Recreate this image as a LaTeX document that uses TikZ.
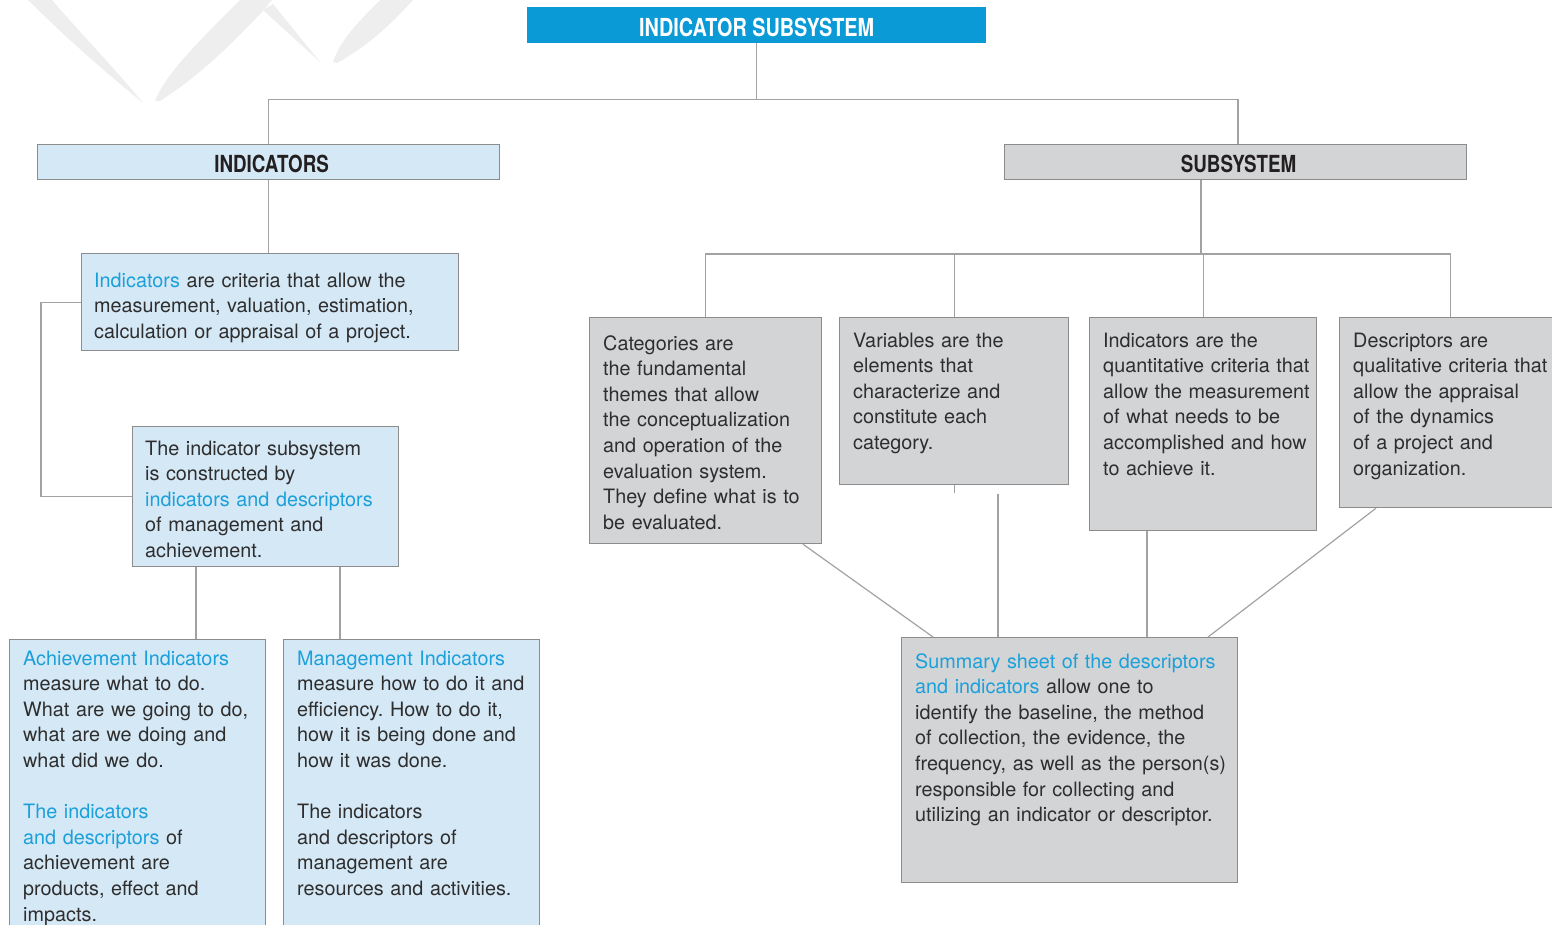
\documentclass[tikz,border=0pt]{standalone}
\usepackage{fontspec}
\setmainfont{TeX Gyre Heros}
\newfontfamily\headfont[FakeStretch=0.8]{TeX Gyre Heros}
\usetikzlibrary{calc}
\frenchspacing

\definecolor{headerblue}{HTML}{0A9AD6}
\definecolor{hlblue}{HTML}{1BA0DA}
\definecolor{lightblue}{HTML}{D5E8F6}
\definecolor{boxgray}{HTML}{D3D4D6}
\definecolor{boxborder}{HTML}{8C8C8C}
\definecolor{linegray}{HTML}{A2A2A2}
\definecolor{textgray}{HTML}{2E2E2E}
\definecolor{headtext}{HTML}{231F20}
\definecolor{wmgray}{HTML}{EEEEEE}

\newcommand{\hl}[1]{\textcolor{hlblue}{#1}}

\tikzset{
  conn/.style={draw=linegray, line width=1.2pt},
  panel/.style={rectangle, draw=boxborder, line width=1.2pt, inner sep=0pt,
                anchor=north west},
  bluepanel/.style={panel, fill=lightblue},
  graypanel/.style={panel, fill=boxgray},
  body/.style={anchor=base west, inner sep=0pt, text width=#1, align=left,
               text=textgray, font=\fontsize{19.8}{25.6}\selectfont},
  body/.default=330pt,
  headlabel/.style={text=headtext, yshift=-2pt,
                    font=\headfont\bfseries\fontsize{23.5}{26}\selectfont},
}

\begin{document}
\begin{tikzpicture}[x=1pt, y=-1pt]
\useasboundingbox (0,0) rectangle (1552,924);

% faint logo in the upper left corner
\begin{scope}[fill=wmgray]
  \fill (28,0) -- (52,0) .. controls (85,38) and (118,72) .. (143,103)
        .. controls (110,76) and (68,40) .. (28,0) -- cycle;
  \fill (155,101) .. controls (165,75) and (195,45) .. (240,0) -- (272,0)
        -- (262,12) .. controls (235,40) and (205,72) .. (160,101) -- cycle;
  \fill (263,10) -- (273,4) -- (321,63) -- cycle;
  \fill (333,62) .. controls (340,40) and (360,20) .. (380,0) -- (413,0)
        .. controls (395,20) and (370,45) .. (337,63) -- cycle;
\end{scope}

% title bar
\node[rectangle, fill=headerblue, inner sep=0pt, anchor=north west,
      minimum width=459, minimum height=36] (top) at (527,7) {};
\node[headlabel, text=white, font=\headfont\bfseries\fontsize{24.8}{28}\selectfont]
      (toptext) at (top.center) {INDICATOR SUBSYSTEM};

% the two branches
\node[bluepanel, minimum width=462, minimum height=35] (ind) at (37,144) {};
\node[headlabel] (indtext) at ([xshift=3pt]ind.center) {INDICATORS};
\node[graypanel, minimum width=462, minimum height=35] (sub) at (1004,144) {};
\node[headlabel] (subtext) at ([xshift=3pt]sub.center) {SUBSYSTEM};

% ---------- left branch ----------
\node[bluepanel, minimum width=377, minimum height=97] (def) at (81,253) {};
\node[body] (deftext) at (94,287)
  {\hl{Indicators} are criteria that allow the\\
   measurement, valuation, estimation,\\
   calculation or appraisal of a project.};

\node[bluepanel, minimum width=266, minimum height=140] (cons) at (132,426) {};
\node[body] (constext) at (145,455)
  {The indicator subsystem\\
   is constructed by\\
   \hl{indicators and descriptors}\\
   of management and\\
   achievement.};

\node[bluepanel, minimum width=256, minimum height=300] (ach) at (9,639) {};
\node[body=250pt] (achtext) at (23,665)
  {\hl{Achievement Indicators}\\
   measure what to do.\\
   What are we going to do,\\
   what are we doing and\\
   what did we do.\\[25.6pt]
   \hl{The indicators}\\
   \hl{and descriptors} of\\
   achievement are\\
   products, effect and\\
   impacts.};

\node[bluepanel, minimum width=256, minimum height=300] (man) at (283,639) {};
\node[body=250pt] (mantext) at (297,665)
  {\hl{Management Indicators}\\
   measure how to do it and\\
   efficiency. How to do it,\\
   how it is being done and\\
   how it was done.\\[25.6pt]
   The indicators\\
   and descriptors of\\
   management are\\
   resources and activities.};

% ---------- right branch ----------
\node[graypanel, minimum width=232, minimum height=226] (cat) at (589,317) {};
\node[body=230pt] (cattext) at (603,350)
  {Categories are\\
   the fundamental\\
   themes that allow\\
   the conceptualization\\
   and operation of the\\
   evaluation system.\\
   They define what is to\\
   be evaluated.};

\node[graypanel, minimum width=229, minimum height=167] (var) at (839,317) {};
\node[body=220pt] (vartext) at (853,347)
  {Variables are the\\
   elements that\\
   characterize and\\
   constitute each\\
   category.};

\node[graypanel, minimum width=227, minimum height=213] (qnt) at (1089,317) {};
\node[body=230pt] (qnttext) at (1103,347)
  {Indicators are the\\
   quantitative criteria that\\
   allow the measurement\\
   of what needs to be\\
   accomplished and how\\
   to achieve it.};

\node[graypanel, minimum width=222, minimum height=190] (desc) at (1339,317) {};
\node[body=220pt] (desctext) at (1353,347)
  {Descriptors are\\
   qualitative criteria that\\
   allow the appraisal\\
   of the dynamics\\
   of a project and\\
   organization.};

\node[graypanel, minimum width=336, minimum height=245] (sum) at (901,637) {};
\node[body=330pt] (sumtext) at (915,668)
  {\hl{Summary sheet of the descriptors}\\
   \hl{and indicators} allow one to\\
   identify the baseline, the method\\
   of collection, the evidence, the\\
   frequency, as well as the person(s)\\
   responsible for collecting and\\
   utilizing an indicator or descriptor.};

% ---------- connectors ----------
\coordinate (split) at ($(top.south)+(0,56)$);
\coordinate (xsub)  at (1238,0);
\coordinate (hub)   at (1201,254);
\coordinate (xa)    at (196,0);
\coordinate (xm)    at (340,0);
\coordinate (xloop) at (41,0);
\coordinate (xc1)   at (803,0);
\coordinate (xc2)   at (933,0);
\coordinate (xq)    at (1147,0);
\coordinate (xd1)   at (1376,0);
\coordinate (xd2)   at (1208,0);
\coordinate (vtail) at (998,494);

\draw[conn] (top.south) -- (split);
\draw[conn] (ind.north) |- (split) -| (sub.north -| xsub);

\draw[conn] (ind.south) -- (ind.south |- def.north);
\draw[conn] (def.west) -- (def.west -| xloop) |- (cons.west);
\draw[conn] (cons.south -| xa) -- (ach.north -| xa);
\draw[conn] (cons.south -| xm) -- (man.north -| xm);

\draw[conn] (sub.south -| hub) -- (hub);
\draw[conn] (cat.north) |- (hub) -| (desc.north);
\draw[conn] (var.north) -- (var.north |- hub);
\draw[conn] (qnt.north) -- (qnt.north |- hub);

\draw[conn] (cat.south -| xc1) -- (sum.north -| xc2);
\draw[conn] (var.south) -- ([yshift=-8pt]var.south);
\draw[conn] (vtail) -- (sum.north -| vtail);
\draw[conn] (qnt.south -| xq) -- (sum.north -| xq);
\draw[conn] (desc.south -| xd1) -- (sum.north -| xd2);
\end{tikzpicture}
\end{document}
